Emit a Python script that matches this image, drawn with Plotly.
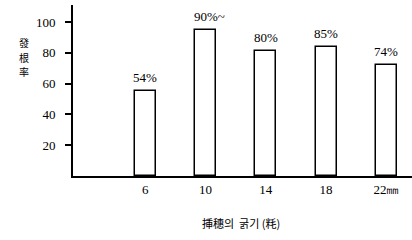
import plotly.graph_objects as go

sizes = [6, 10, 14, 18, 22]
rates = [55, 95, 81, 84, 72]
rate_labels = ["54%", "90%~", "80%", "85%", "74%"]
tick_text = ["6", "10", "14", "18", "22㎜"]
y_ticks = [20, 40, 60, 80, 100]
y_title_chars = ["發", "根", "率"]

serif = "Liberation Serif, DejaVu Serif, serif"
cjk = "Noto Sans CJK KR, Noto Sans CJK SC, sans-serif"

fig = go.Figure()
fig.add_trace(go.Bar(
    x=sizes, y=rates, width=1.4,
    marker=dict(color="white", line=dict(color="black", width=1.5)),
    showlegend=False,
))

for xv, yv, t in zip(sizes, rates, rate_labels):
    fig.add_annotation(x=xv, y=yv, text=t, showarrow=False, yanchor="bottom",
                       yshift=4, xshift=4 if t.endswith("~") else 0,
                       font=dict(family=serif, size=13, color="black"))

for i, ch in enumerate(y_title_chars):
    fig.add_annotation(xref="paper", yref="paper", x=-0.165, y=0.78 - i * 0.085,
                       text=ch, showarrow=False, yanchor="middle",
                       font=dict(family=cjk, size=10, color="black"))

fig.add_annotation(xref="paper", yref="paper", x=0.495, y=-0.275, xanchor="center",
                   yanchor="middle", text="挿穗의  굵기 (粍)",
                   showarrow=False, font=dict(family=cjk, size=11, color="black"))

fig.update_layout(
    width=412, height=240,
    margin=dict(l=73, r=0, t=5, b=64),
    paper_bgcolor="white", plot_bgcolor="white",
    font=dict(family=serif, size=13, color="black"),
    bargap=0,
)
fig.update_xaxes(range=[1.2, 23.7], tickvals=sizes, ticktext=tick_text,
                 showline=True, linecolor="black", linewidth=2, ticks="",
                 showgrid=False, zeroline=False, tickfont=dict(size=13))
fig.update_yaxes(range=[0, 111], tickvals=y_ticks, showline=True,
                 linecolor="black", linewidth=2, ticks="outside", ticklen=6,
                 tickwidth=1.5, tickcolor="black", showgrid=False, zeroline=False,
                 tickfont=dict(size=13), ticklabelstandoff=7)

fig.write_html("out.html", config={"displayModeBar": False},
               post_script="document.body.style.margin='0';document.body.style.padding='0';")
